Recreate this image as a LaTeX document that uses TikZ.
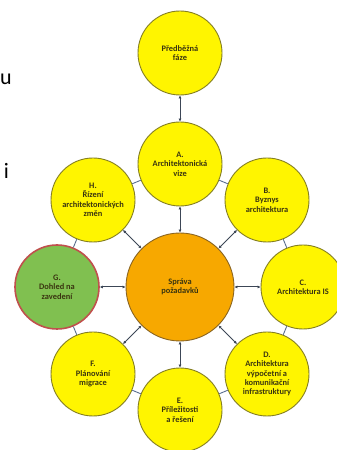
\documentclass[tikz,border=0pt]{standalone}
\usepackage{fontspec}
\setmainfont{Carlito}
\usetikzlibrary{arrows.meta}
\definecolor{cyel}{HTML}{FFF500}
\definecolor{cyelb}{HTML}{857F22}
\definecolor{corg}{HTML}{F7A800}
\definecolor{corgb}{HTML}{8A6420}
\definecolor{cgrn}{HTML}{80C050}
\definecolor{cgrnb}{HTML}{C0504D}
\definecolor{ctxt}{HTML}{3A3510}
\definecolor{cspoke}{HTML}{3C4656}
\definecolor{cring}{HTML}{5A6E8E}
\tikzset{
  phase/.style={circle, draw=cyelb, line width=0.9pt, fill=cyel, minimum size=84pt, inner sep=0pt,
    align=center, font=\bfseries\fontsize{8.4}{9.4}\selectfont, text=ctxt},
  hub/.style={phase, fill=corg, draw=corgb, minimum size=108pt},
  green/.style={phase, fill=cgrn, draw=cgrnb, line width=1.6pt},
  spoke/.style={draw=cspoke, line width=1pt, {Latex[length=3pt,width=3pt]}-{Latex[length=3pt,width=3pt]}},
  ringline/.style={draw=cring, line width=0.9pt},
  frag/.style={font=\fontsize{22}{26}\selectfont, anchor=base east, inner sep=0pt}
}
\begin{document}
\begin{tikzpicture}[x=1pt,y=1pt]
\useasboundingbox (0,0) rectangle (337,450);
\clip (0,0) rectangle (337,450);
\fill[white] (0,0) rectangle (337,450);
\node[frag] (fu) at (12,365) {u};
\node[frag] (fi) at (9,271) {i};
\node[hub] (S) at (180,163) {Správa\\požadavků};
\node[phase] (P) at (180,397) {Předběžná\\fáze};
\node[phase] (A) at (180,286) {A.\\Architektonická\\vize};
\node[phase] (B) at (267,250) {B.\\Byznys\\architektura};
\node[phase] (C) at (303,163) {C.\\Architektura IS};
\node[phase] (D) at (267,76) {D.\\Architektura\\výpočetní a\\komunikační\\infrastruktury};
\node[phase] (E) at (180,40) {E.\\Příležitosti\\a řešení};
\node[phase] (F) at (93,76) {F.\\Plánování\\migrace};
\node[green] (G) at (57,163) {G.\\Dohled na\\zavedení};
\node[phase] (H) at (93,250) {H.\\Řízení\\architektonických\\změn};
\draw[spoke] (P) -- (A);
\foreach \n in {A,B,C,D,E,F,G,H} { \draw[spoke] (S) -- (\n); }
\draw[ringline] (A) -- (B);
\draw[ringline] (B) -- (C);
\draw[ringline] (C) -- (D);
\draw[ringline] (D) -- (E);
\draw[ringline] (E) -- (F);
\draw[ringline] (F) -- (G);
\draw[ringline] (G) -- (H);
\draw[ringline] (H) -- (A);
\end{tikzpicture}
\end{document}
